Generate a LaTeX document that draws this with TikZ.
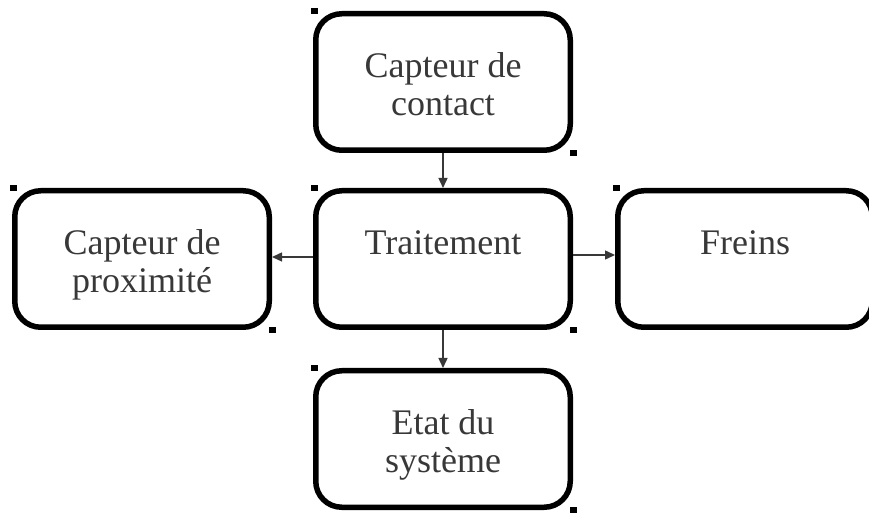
\documentclass[tikz,border=0pt]{standalone}
\usepackage{fontspec}
\setmainfont{Liberation Serif}
\usetikzlibrary{arrows.meta}
\definecolor{inkgray}{HTML}{383838}
\tikzset{
  blockbox/.style={draw=black, line width=5.5pt, rounded corners=26pt,
    minimum width=254.5pt, minimum height=136.5pt, align=center,
    text=inkgray, font=\fontsize{36}{38}\selectfont, inner sep=0pt,
    text height=67pt, text depth=0pt},
  handle/.style={fill=black},
  flow/.style={draw=inkgray, line width=1.4pt, -{Triangle[length=10pt,width=9pt]}}
}
\begin{document}
\begin{tikzpicture}[x=1pt,y=1pt]
  \useasboundingbox (0,0) rectangle (869,514);
  \clip (0,0) rectangle (869,514);
  \fill[white] (0,0) rectangle (869,514);
  % blocks
  \node[blockbox] (contact) at (443,432) {Capteur de\\contact};
  \node[blockbox] (traitement) at (443,255) {Traitement\\\mbox{}};
  \node[blockbox] (proximite) at (142,255) {Capteur de\\proximité};
  \node[blockbox] (freins) at (745,255) {Freins\\\mbox{}};
  \node[blockbox] (etat) at (443,75) {Etat du\\système};
  % selection handles
  \foreach \b in {contact,traitement,proximite,freins,etat} {
    \fill[handle] ([shift={(-2,-3)}]\b.north west) rectangle +(7,6);
    \fill[handle] ([shift={(-3,-3)}]\b.south east) rectangle +(7,6);
  }
  % connectors
  \draw[flow] (contact.south) -- (traitement.north);
  \draw[flow] (traitement.south) -- (etat.north);
  \draw[flow] ([yshift=2pt]traitement.west) -- ([yshift=2pt]proximite.east);
  \draw[flow] ([yshift=4pt]traitement.east) -- ([yshift=4pt]freins.west);
\end{tikzpicture}
\end{document}
